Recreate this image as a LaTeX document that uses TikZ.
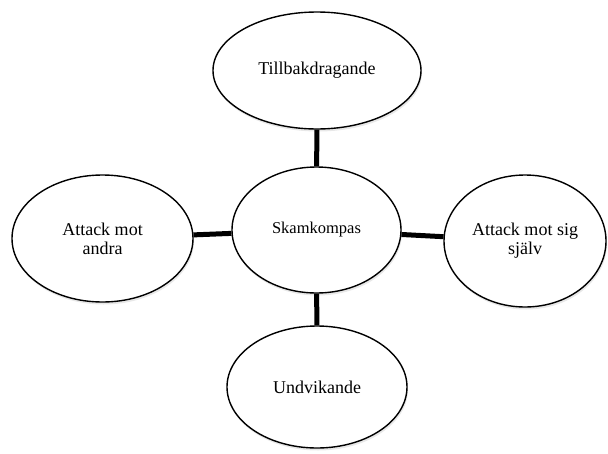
\documentclass[tikz,border=0pt]{standalone}
\usepackage{fontspec}
\setmainfont{Liberation Serif}
\usetikzlibrary{shapes.geometric,shadows}
\begin{document}
\begin{tikzpicture}[x=1pt,y=-1pt,
  oval/.style={ellipse,draw=black,line width=1.4pt,fill=white,inner sep=0pt,
    align=center,font=\fontsize{18}{19}\selectfont,
    drop shadow={opacity=0.18,shadow xshift=1pt,shadow yshift=-2.5pt}},
  link/.style={line width=5pt}]
\useasboundingbox (0,0) rectangle (608,453);
\node[oval,minimum width=169pt,minimum height=126pt,font=\fontsize{16.5}{18}\selectfont] (c) at (316.5,230) {Skamkompas};
\node[oval,minimum width=208pt,minimum height=117pt] (t) at (317,70.5) {Tillbakdragande};
\node[oval,minimum width=181pt,minimum height=127pt] (l) at (102.5,238.5) {Attack mot\\andra};
\node[oval,minimum width=162pt,minimum height=132pt] (r) at (525,241) {Attack mot sig\\själv};
\node[oval,minimum width=180pt,minimum height=122pt] (b) at (317,387) {Undvikande};
\draw[link] (t) -- (c);
\draw[link] (c) -- (b);
\draw[link] (l) -- (c);
\draw[link] (c) -- (r);
\end{tikzpicture}
\end{document}
